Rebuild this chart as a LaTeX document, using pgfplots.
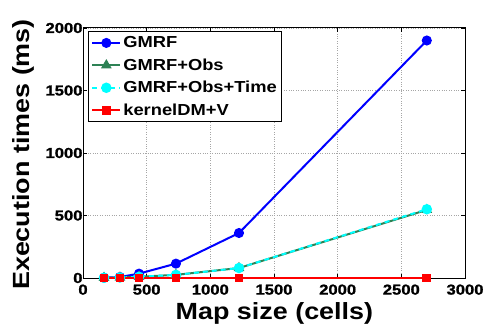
\documentclass[border=0pt]{standalone}
\usepackage{pgfplots}
\pgfplotsset{compat=1.18}
\usepackage{fontspec}
\setmainfont{Liberation Sans}[FakeStretch=1.15]
\newfontfamily\tickfont{Liberation Sans Bold}[FakeStretch=1.15, FakeBold=1.2]
\definecolor{obsgreen}{RGB}{46,130,85}
\definecolor{pblue}{RGB}{0,0,255}
\definecolor{pcyan}{RGB}{0,255,255}
\definecolor{pred}{RGB}{255,0,0}
\begin{document}
\begin{tikzpicture}[x=1bp,y=1bp]
\useasboundingbox (0,0) rectangle (485,325);
\begin{axis}[
  at={(83bp,47bp)}, anchor=south west,
  width=382bp, height=250bp, scale only axis,
  xmin=0, xmax=3000, ymin=0, ymax=2000,
  xtick={0,500,1000,1500,2000,2500,3000},
  xticklabels={0,500,1000,1500,2000,2500,3000},
  ytick={0,500,1000,1500,2000},
  yticklabels={0,500,1000,1500,2000},
  grid=major,
  major grid style={dotted, gray!70, line width=0.6pt},
  tick align=inside, major tick length=4bp,
  tick style={black, line width=0.8pt},
  axis line style={line width=1pt},
  xticklabel style={font=\fontsize{14.5}{16}\tickfont, yshift=-3bp},
  yticklabel style={font=\fontsize{14.5}{16}\tickfont, xshift=3bp},
  xlabel={Map size (cells)},
  ylabel={Execution times (ms)},
  xlabel style={font=\fontsize{23.5}{26}\selectfont\bfseries, at={(axis description cs:0.501,-0.164)}, anchor=base},
  ylabel style={font=\fontsize{23.5}{26}\selectfont\bfseries, at={(axis description cs:-0.141,0.494)}, anchor=base},
  legend style={at={(axis cs:38,1975)}, anchor=north west, draw=black, line width=1pt,
    font=\fontsize{16}{19}\selectfont\bfseries, inner xsep=3bp, inner ysep=3bp, row sep=5.5bp,
    legend cell align=left},
  legend image code/.code={\draw[#1] (0bp,0bp) -- (28bp,0bp); \draw[#1,solid] plot coordinates {(14bp,0bp)};},
]
\addplot[pblue, line width=2bp, mark=*, mark size=4bp] coordinates {
 (165,2) (290,8) (440,35) (730,115) (1225,360) (2700,1900)};
\addlegendentry{GMRF}
\addplot[obsgreen, line width=2bp, mark=triangle*, mark size=4.2bp] coordinates {
 (165,2) (290,4) (440,10) (730,25) (1225,80) (2700,545)};
\addlegendentry{GMRF+Obs}
\addplot[pcyan, line width=2bp, dash pattern=on 5bp off 4bp, mark=*, mark size=4.2bp, mark options={solid}] coordinates {
 (165,2) (290,4) (440,10) (730,25) (1225,80) (2700,550)};
\addlegendentry{GMRF+Obs+Time}
\addplot[pred, line width=2bp, mark=square*, mark size=3.4bp] coordinates {
 (165,0) (290,0) (440,0) (730,0) (1225,0) (2700,0)};
\addlegendentry{kernelDM+V}
\end{axis}
\end{tikzpicture}
\end{document}
